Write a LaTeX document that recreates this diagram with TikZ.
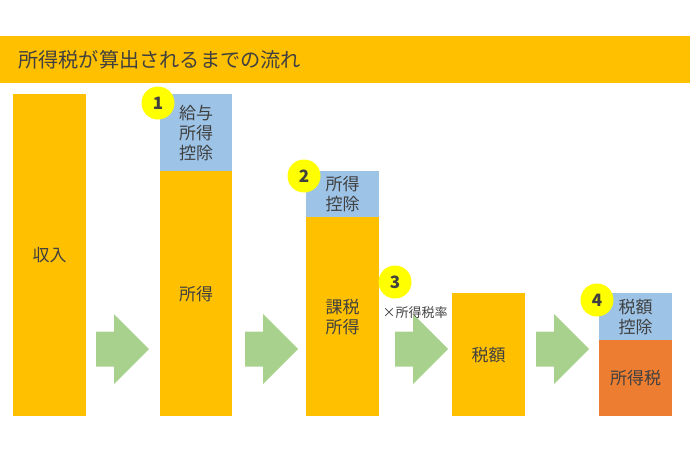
\documentclass[tikz,border=0pt]{standalone}
\usepackage{fontspec}
\setmainfont{Noto Sans CJK JP}
\definecolor{barorange}{HTML}{FFC000}
\definecolor{barblue}{HTML}{9DC3E6}
\definecolor{barred}{HTML}{ED7D31}
\definecolor{arrowgreen}{HTML}{A9D18E}
\definecolor{circyellow}{HTML}{FFFF00}
\definecolor{textgray}{HTML}{404040}
\tikzset{
  colbox/.style={anchor=north west, inner sep=0pt, minimum width=73pt, align=center,
    text=textgray, font=\fontsize{17}{20}\selectfont},
  numcirc/.style={circle, fill=circyellow, inner sep=0pt, minimum size=33pt,
    text=textgray, font=\fontsize{17}{17}\selectfont\bfseries},
  fatarrow/.pic={\fill[arrowgreen] (0,-17.5) -- (18,-17.5) -- (18,-35) -- (53,0) -- (18,35) -- (18,17.5) -- (0,17.5) -- cycle;}
}
\begin{document}
\begin{tikzpicture}[x=1pt,y=-1pt]
\useasboundingbox (0,0) rectangle (690,460);
% title bar
\node[anchor=north west, inner sep=0pt, fill=barorange, minimum width=690pt, minimum height=47pt] (titlebar) at (0,36) {};
\node[anchor=west, inner sep=0pt, text=textgray, font=\fontsize{20.2}{24}\selectfont] (title) at (18,59.5) {所得税が算出されるまでの流れ};
% column 1
\node[colbox, fill=barorange, minimum height=322pt] (income) at (13,94) {収入};
% column 2
\node[colbox, fill=barblue, minimum width=72pt, minimum height=77pt] (ded1) at (160,94) {給与\\所得\\控除};
\node[colbox, fill=barorange, minimum width=72pt, minimum height=245pt] (shotoku) at (160,171) {所得};
% column 3
\node[colbox, fill=barblue, minimum height=46pt] (ded2) at (306,171) {所得\\控除};
\node[colbox, fill=barorange, minimum height=199pt] (kazei) at (306,217) {課税\\所得};
% column 4
\node[colbox, fill=barorange, minimum height=123pt] (zeigaku) at (452,293) {税額};
% column 5
\node[colbox, fill=barblue, minimum height=47pt] (ded4) at (599,293) {税額\\控除};
\node[colbox, fill=barred, minimum height=76pt] (tax) at (599,340) {所得税};
% arrows
\pic at (96,349) {fatarrow};
\pic at (245,349) {fatarrow};
\pic at (395,349) {fatarrow};
\pic at (536,349) {fatarrow};
% rate label
\node[inner sep=0pt, text=textgray, font=\fontsize{13}{15}\selectfont] (rate) at (415,313) {×所得税率};
% number circles
\node[numcirc] (c1) at (158,103) {1};
\node[numcirc] (c2) at (304,176) {2};
\node[numcirc] (c3) at (395,282) {3};
\node[numcirc] (c4) at (597,300) {4};
\end{tikzpicture}
\end{document}
